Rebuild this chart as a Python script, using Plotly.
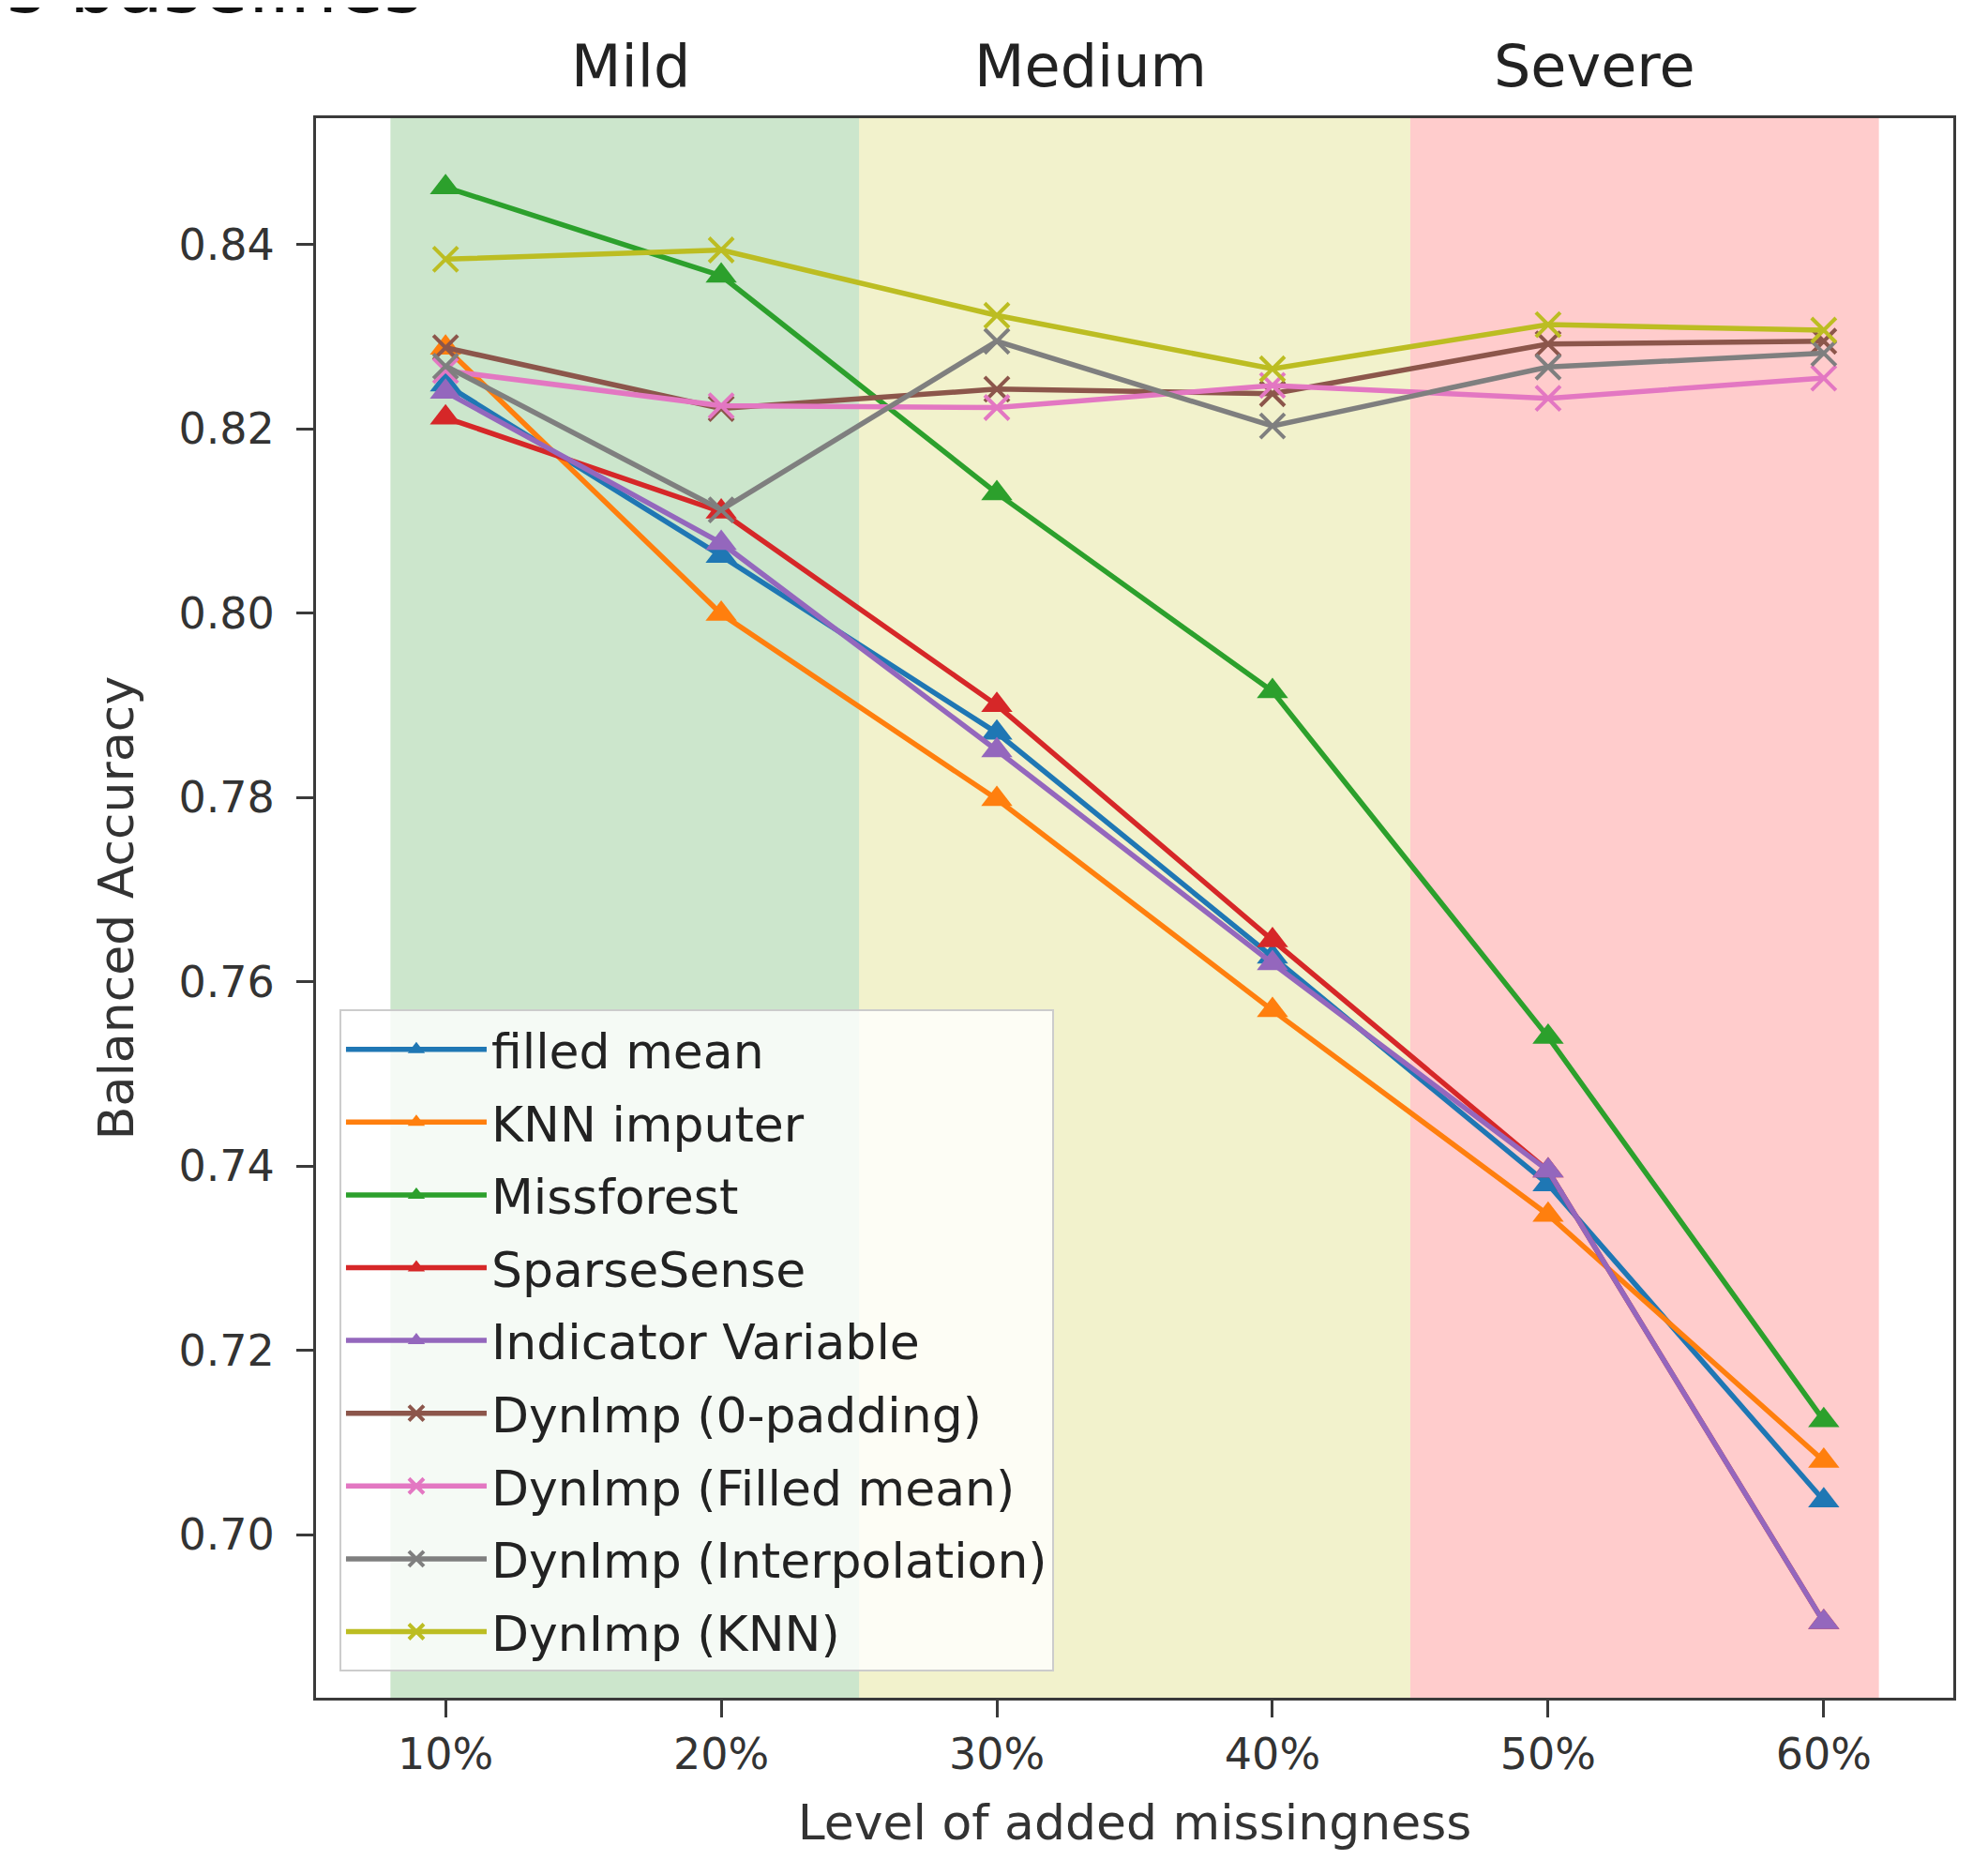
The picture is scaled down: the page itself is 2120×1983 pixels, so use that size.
import plotly.graph_objects as go

# ---------------- data ----------------
levels = [10, 20, 30, 40, 50, 60]
tick_labels = ["10%", "20%", "30%", "40%", "50%", "60%"]

filled_mean = [0.8248, 0.8062, 0.7870, 0.7627, 0.7380, 0.7037]
knn_imputer = [0.8288, 0.7999, 0.7798, 0.7569, 0.7347, 0.7080]
missforest = [0.8462, 0.8366, 0.8130, 0.7915, 0.7540, 0.7124]
sparsesense = [0.8212, 0.8110, 0.7900, 0.7645, 0.7395, 0.6905]
indicator_variable = [0.8240, 0.8076, 0.7851, 0.7620, 0.7395, 0.6905]
dynimp_zero = [0.8288, 0.8222, 0.8243, 0.8238, 0.8292, 0.8295]
dynimp_mean = [0.8263, 0.8225, 0.8223, 0.8247, 0.8233, 0.8255]
dynimp_interp = [0.8268, 0.8112, 0.8295, 0.8203, 0.8267, 0.8282]
dynimp_knn = [0.8384, 0.8394, 0.8323, 0.8265, 0.8313, 0.8307]

series_names = ["filled mean", "KNN imputer", "Missforest", "SparseSense",
                "Indicator Variable", "DynImp (0-padding)", "DynImp (Filled mean)",
                "DynImp (Interpolation)", "DynImp (KNN)"]
series_values = [filled_mean, knn_imputer, missforest, sparsesense,
                 indicator_variable, dynimp_zero, dynimp_mean, dynimp_interp, dynimp_knn]
series_markers = ["triangle-up"] * 5 + ["x-thin"] * 4
series_colors = ["#1f77b4", "#ff7f0e", "#2ca02c", "#d62728", "#9467bd",
                 "#8c564b", "#e377c2", "#7f7f7f", "#bcbd22"]

region_names = ["Mild", "Medium", "Severe"]
region_starts = [8, 25, 45]
region_ends = [25, 45, 62]
region_fills = ["rgba(0,128,0,0.2)", "rgba(191,191,0,0.2)", "rgba(255,0,0,0.2)"]
region_label_x = [16.7, 33.4, 51.7]

y_ticks = [0.70, 0.72, 0.74, 0.76, 0.78, 0.80, 0.82, 0.84]
y_tick_labels = ["0.70", "0.72", "0.74", "0.76", "0.78", "0.80", "0.82", "0.84"]

# ---------------- figure ----------------
fig = go.Figure()
for name, vals, sym, col in zip(series_names, series_values, series_markers, series_colors):
    if sym == "x-thin":
        marker = dict(symbol=sym, size=26, color=col, line=dict(width=4, color=col))
    else:
        marker = dict(symbol=sym, size=29, color=col, line=dict(width=0))
    fig.add_trace(go.Scatter(x=levels, y=vals, name=name, mode="lines+markers",
                             legendgroup=name,
                             line=dict(color=col, width=5.5), marker=marker))

for s, e, c in zip(region_starts, region_ends, region_fills):
    fig.add_vrect(x0=s, x1=e, fillcolor=c, line_width=0, layer="below")

for nm, xl in zip(region_names, region_label_x):
    fig.add_annotation(x=xl, xref="x", y=1.033, yref="paper", text=nm, showarrow=False,
                       font=dict(size=62, color="#222222"), yanchor="middle")

fig.add_annotation(x=-0.19, xref="paper", y=1.0545, yref="paper", text="s baselines",
                   showarrow=False, xanchor="left", yanchor="bottom",
                   font=dict(size=80, color="#111111"))

axis_common = dict(showline=True, linecolor="#3a3a3a", linewidth=3, mirror=True,
                   ticks="outside", ticklen=18, tickwidth=3, tickcolor="#3a3a3a",
                   showgrid=False, zeroline=False,
                   tickfont=dict(size=46, color="#333333"))

fig.update_xaxes(range=[5.3, 64.7], tickvals=levels, ticktext=tick_labels,
                 title=dict(text="Level of added missingness", font=dict(size=52, color="#333333"),
                            standoff=29),
                 **axis_common)
fig.update_yaxes(range=[0.6823, 0.8537], tickvals=y_ticks, ticktext=y_tick_labels,
                 ticklabelstandoff=14,
                 title=dict(text="Balanced Accuracy", font=dict(size=52, color="#333333"),
                            standoff=32),
                 **axis_common)

fig.update_layout(
    width=2104, height=1967,
    margin=dict(l=329, r=29, t=118, b=146),
    paper_bgcolor="white", plot_bgcolor="white",
    font=dict(family="DejaVu Sans", color="#333333"),
    showlegend=True,
    legend=dict(x=0.0143, y=0.0164, xanchor="left", yanchor="bottom",
                bgcolor="rgba(255,255,255,0.8)", bordercolor="#cccccc", borderwidth=2,
                font=dict(size=52, color="#222222"), tracegroupgap=7, itemwidth=150),
)

fig.write_html("out.html")
